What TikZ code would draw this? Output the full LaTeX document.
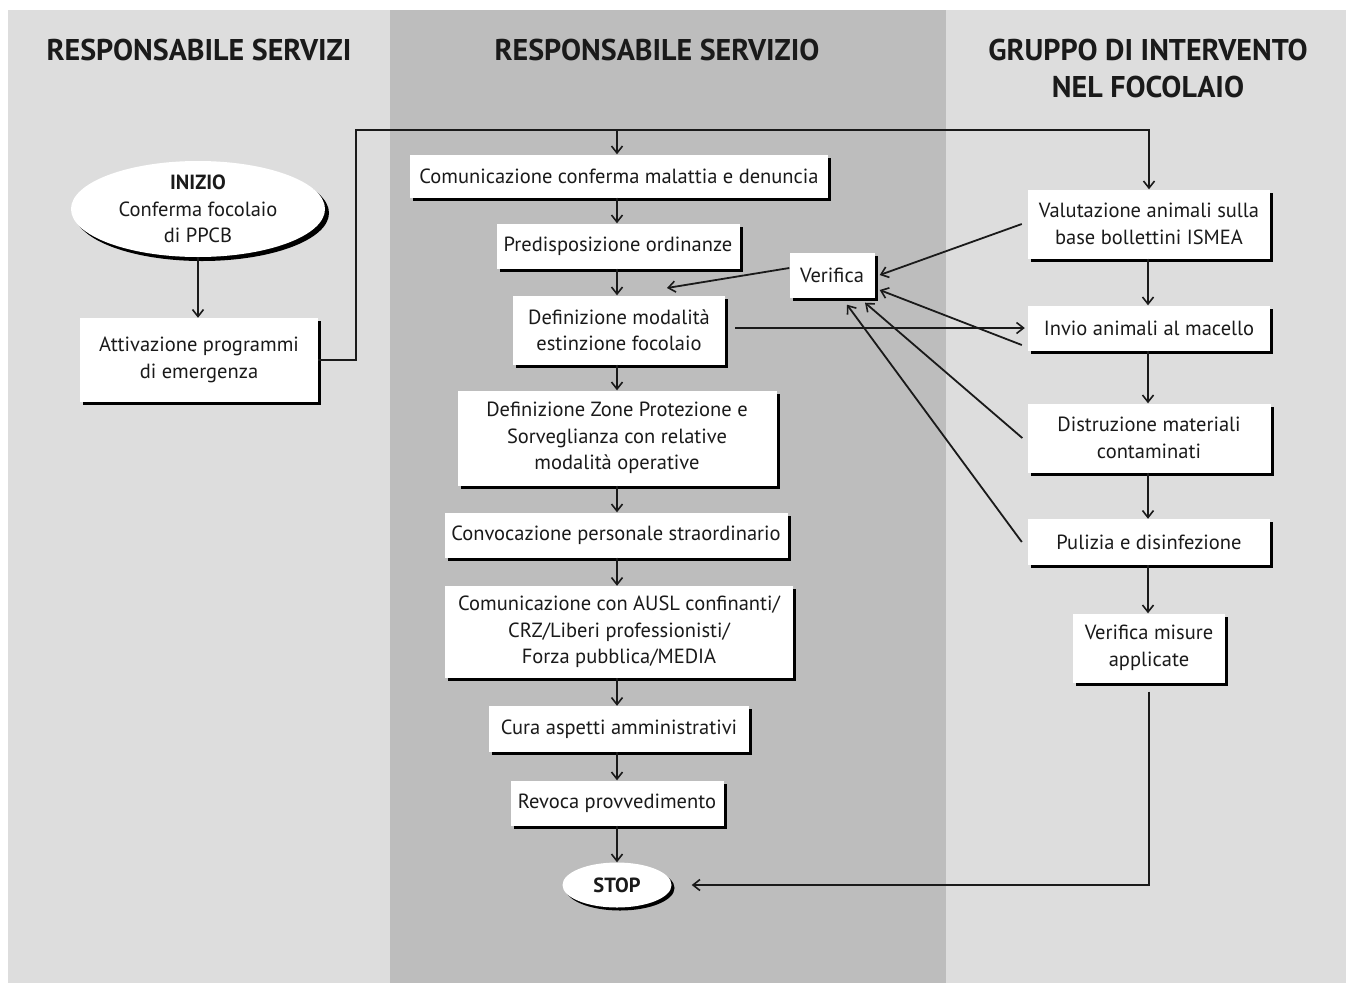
\documentclass[tikz,border=0pt]{standalone}
\usepackage{fontspec}
\setmainfont{PT Sans}
\usetikzlibrary{arrows.meta,shapes.geometric,shadows}
\definecolor{lightg}{HTML}{DDDDDD}
\definecolor{midg}{HTML}{BDBDBD}
\definecolor{ink}{HTML}{1A1A1A}
\begin{document}
\begin{tikzpicture}[x=1pt,y=-1pt,
  box/.style={fill=white, inner sep=0pt, align=center, font=\fontsize{20.5}{26.5}\selectfont, text=ink,
    drop shadow={shadow xshift=3pt, shadow yshift=-3pt, fill=black, opacity=1}},
  oval/.style={box, ellipse},
  head/.style={font=\fontsize{30}{37}\selectfont\bfseries, text=ink, align=center},
  arr/.style={draw=ink, line width=1.8pt, -{Straight Barb[length=7pt,width=11pt,line width=1.6pt]}},
  ln/.style={draw=ink, line width=1.8pt}]
\useasboundingbox (0,0) rectangle (1348,983);
\fill[lightg] (8,10) rectangle (390,983);
\fill[midg] (390,10) rectangle (946,983);
\fill[lightg] (946,10) rectangle (1346,983);

\node[head] (h1) at (199,50) {RESPONSABILE SERVIZI};
\node[head] (h2) at (657,50) {RESPONSABILE SERVIZIO};
\node[head] (h3) at (1148,68) {GRUPPO DI INTERVENTO\\NEL FOCOLAIO};

\node[oval, minimum width=254pt, minimum height=92pt, drop shadow={shadow xshift=4pt, shadow yshift=-4pt, fill=black, opacity=1}] (ini) at (198,209) {\textbf{INIZIO}\\Conferma focolaio\\di PPCB};
\node[box, minimum width=238pt, minimum height=84pt] (att) at (199,360) {Attivazione programmi\\di emergenza};

\node[box, minimum width=418pt, minimum height=43pt] (com) at (619,176) {Comunicazione conferma malattia e denuncia};
\node[box, minimum width=243pt, minimum height=45pt] (pre) at (618,246) {Predisposizione ordinanze};
\node[box, minimum width=212pt, minimum height=69pt] (def) at (619,330) {Definizione modalità\\estinzione focolaio};
\node[box, minimum width=319pt, minimum height=95pt] (zon) at (617,438) {Definizione Zone Protezione e\\Sorveglianza con relative\\modalità operative};
\node[box, minimum width=343pt, minimum height=45pt] (con) at (616,535) {Convocazione personale straordinario};
\node[box, minimum width=348pt, minimum height=92pt] (ausl) at (619,632) {Comunicazione con AUSL confinanti/\\CRZ/Liberi professionisti/\\Forza pubblica/MEDIA};
\node[box, minimum width=260pt, minimum height=46pt] (cur) at (619,729) {Cura aspetti amministrativi};
\node[box, minimum width=213pt, minimum height=45pt] (rev) at (617,803) {Revoca provvedimento};
\node[oval, minimum width=109pt, minimum height=45pt] (stop) at (617,885) {\textbf{STOP}};

\node[box, minimum width=85pt, minimum height=45pt] (ver) at (832,275) {Verifica};

\node[box, minimum width=242pt, minimum height=69pt] (val) at (1149,224) {Valutazione animali sulla\\base bollettini ISMEA};
\node[box, minimum width=242pt, minimum height=45pt] (inv) at (1149,328) {Invio animali al macello};
\node[box, minimum width=243pt, minimum height=69pt] (dis) at (1149,438) {Distruzione materiali\\contaminati};
\node[box, minimum width=242pt, minimum height=46pt] (pul) at (1149,542) {Pulizia e disinfezione};
\node[box, minimum width=152pt, minimum height=69pt] (vm) at (1149,648) {Verifica misure\\applicate};

% connectors
\draw[arr] (ini.south) -- (ini.south |- att.north);
\coordinate (c1) at (356,130);
\draw[arr] (att.east) -| (c1) -| (val.north);
\coordinate (mx) at (617,0);
\draw[arr] (mx |- c1) -- (mx |- com.north);
\draw[arr] (mx |- com.south) -- (mx |- pre.north);
\draw[arr] (mx |- pre.south) -- (mx |- def.north);
\draw[arr] (mx |- def.south) -- (mx |- zon.north);
\draw[arr] (mx |- zon.south) -- (mx |- con.north);
\draw[arr] (mx |- con.south) -- (mx |- ausl.north);
\draw[arr] (mx |- ausl.south) -- (mx |- cur.north);
\draw[arr] (mx |- cur.south) -- (mx |- rev.north);
\draw[arr] (mx |- rev.south) -- (stop.north);

\coordinate (vt) at (667,288);
\draw[arr] ([yshift=7pt]ver.west) -- (vt);
\draw[arr] ([xshift=10pt,yshift=2pt]def.east) -- ([xshift=-3pt]inv.west);

\draw[arr] ([xshift=-6pt]val.west) -- ([xshift=5pt]ver.east);
\draw[arr] ([xshift=-6pt,yshift=-17pt]inv.west) -- ([xshift=5pt,yshift=-15pt]ver.east);
\draw[arr] ([xshift=-5pt]dis.west) -- ([xshift=33pt,yshift=-5pt]ver.south);
\draw[arr] ([xshift=-6pt]pul.west) -- ([xshift=15pt,yshift=-7pt]ver.south);

\coordinate (rx) at (1148,0);
\draw[arr] (rx |- val.south) -- (rx |- inv.north);
\draw[arr] (rx |- inv.south) -- (rx |- dis.north);
\draw[arr] (rx |- dis.south) -- (rx |- pul.north);
\draw[arr] (rx |- pul.south) -- (rx |- vm.north);
\draw[arr] ([yshift=-9pt]vm.south) |- ([xshift=20pt]stop.east);
\end{tikzpicture}
\end{document}
